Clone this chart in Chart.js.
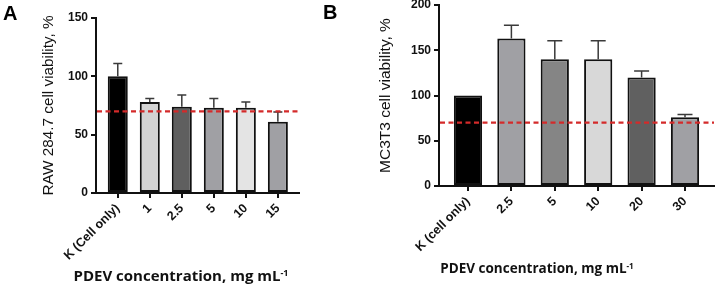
<!DOCTYPE html>
<html>
<head>
<meta charset="utf-8">
<script src="https://cdn.jsdelivr.net/npm/chart.js@4"></script>
<style>
  html, body { margin:0; padding:0; background:#fff; }
  body { width:717px; height:287px; position:relative; overflow:hidden; font-family:"Liberation Sans", Arial, sans-serif; }
  .wrap { position:absolute; top:0; height:287px; }
  .letter { position:absolute; font:bold 20px "Liberation Sans", Arial, sans-serif; color:#000; }
  .xt { position:absolute; font-family:"Open Sans", sans-serif; font-weight:700; color:#111; white-space:nowrap; transform:translate(-50%,-50%); }
  .xt sup { font-size:0.6em; vertical-align:0.55em; line-height:0; }
</style>
</head>
<body>
<div class="wrap" style="left:0;width:320px;"><canvas id="cA" width="320" height="287"></canvas></div>
<div class="wrap" style="left:320px;width:397px;"><canvas id="cB" width="397" height="287"></canvas></div>
<div class="letter" style="left:3px;top:2px;">A</div>
<div class="letter" style="left:323px;top:1px;">B</div>
<div class="xt" style="left:181px;top:275px;font-size:15px;">PDEV concentration, mg mL<sup>-1</sup></div>
<div class="xt" style="left:537px;top:268px;font-size:13.5px;">PDEV concentration, mg mL<sup>-1</sup></div>
<script>
// Panel A data
const labelsA = ["K (Cell only)", "1", "2.5", "5", "10", "15"];
const valuesA = [100, 78, 74, 73, 73, 61];
const errorsA = [11, 3, 10, 8, 5, 8.5];
const colorsA = ["#000000", "#d3d3d3", "#5f5f5f", "#a0a0a4", "#e4e4e4", "#a0a0a4"];
const yTicksA = [0, 50, 100, 150];
// Panel B data
const labelsB = ["K (cell only)", "2.5", "5", "10", "20", "30"];
const valuesB = [100, 163, 140, 140, 120, 76];
const errorsB = [0, 14.5, 20.5, 20.5, 7, 3];
const colorsB = ["#000000", "#a0a0a4", "#858585", "#d8d8d8", "#606060", "#a0a0a4"];
const yTicksB = [0, 50, 100, 150, 200];
const threshold = 70;

function makeChart(id, cfg) {
  const errPlugin = {
    id: 'errbars',
    afterDatasetsDraw(chart) {
      const ctx = chart.ctx, xs = chart.scales.x, ys = chart.scales.y;
      ctx.save();
      ctx.strokeStyle = '#3a3a3a';
      ctx.lineWidth = 1.5;
      cfg.values.forEach((v, i) => {
        const e = cfg.errors[i];
        if (!e) return;
        const x = xs.getPixelForValue(i);
        const y0 = ys.getPixelForValue(v);
        const y1 = ys.getPixelForValue(v + e);
        ctx.beginPath();
        ctx.moveTo(x, y0); ctx.lineTo(x, y1);
        ctx.moveTo(x - cfg.cap / 2, y1); ctx.lineTo(x + cfg.cap / 2, y1);
        ctx.stroke();
      });
      // threshold line
      const ty = ys.getPixelForValue(threshold);
      ctx.strokeStyle = '#d42a2a';
      ctx.lineWidth = 2.2;
      ctx.setLineDash([5, 3.5]);
      ctx.beginPath();
      ctx.moveTo(chart.chartArea.left + 1, ty);
      ctx.lineTo(chart.chartArea.right, ty);
      ctx.stroke();
      ctx.restore();
    }
  };
  return new Chart(document.getElementById(id), {
    type: 'bar',
    data: {
      datasets: [{
        data: cfg.values.map((v, i) => ({ x: i, y: v })),
        backgroundColor: cfg.colors,
        borderColor: '#111111',
        borderWidth: 2,
        borderSkipped: false,
        barPercentage: cfg.barPct,
        categoryPercentage: 1
      }]
    },
    options: {
      responsive: false,
      animation: false,
      events: [],
      layout: { padding: cfg.padding },
      plugins: { legend: { display: false }, tooltip: { enabled: false } },
      scales: {
        x: {
          type: 'linear',
          offset: false,
          min: cfg.xmin, max: cfg.xmax,
          afterBuildTicks(s) { s.ticks = cfg.labels.map((_, i) => ({ value: i })); },
          afterFit(s) { s.height = cfg.xh; s.paddingLeft = 0; s.paddingRight = 0; },
          grid: { display: true, offset: false, drawOnChartArea: false, drawTicks: true, tickLength: 5, color: '#111', lineWidth: 2 },
          border: { display: true, color: '#111', width: 2 },
          ticks: {
            autoSkip: false, minRotation: 45, maxRotation: 45, padding: 3,
            color: '#111',
            font: { family: '"Liberation Sans", Arial, sans-serif', size: 12.5, weight: 'bold' },
            callback: (v) => cfg.labels[v]
          }
        },
        y: {
          min: 0, max: cfg.ymax,
          afterBuildTicks(s) { s.ticks = cfg.yticks.map(v => ({ value: v })); },
          afterFit(s) { s.width = cfg.yw; s.paddingTop = 0; s.paddingBottom = 0; },
          grid: { display: true, drawOnChartArea: false, drawTicks: true, tickLength: 5, color: '#111', lineWidth: 2 },
          border: { display: true, color: '#111', width: 2 },
          ticks: {
            padding: 3, color: '#111',
            font: { family: '"Liberation Sans", Arial, sans-serif', size: 12, weight: 'bold' }
          },
          title: {
            display: true, text: cfg.ytitle, color: '#111',
            font: { family: '"Liberation Sans", Arial, sans-serif', size: cfg.ytsize },
            padding: { top: cfg.ytpad, bottom: 0 }
          }
        }
      }
    },
    plugins: [errPlugin]
  });
}

makeChart('cA', {
  labels: labelsA, values: valuesA, errors: errorsA, colors: colorsA, yticks: yTicksA,
  ymax: 150, xmin: -0.68, xmax: 5.66, barPct: 0.625, cap: 9,
  padding: { left: 0, right: 21, top: 18, bottom: 0 },
  yw: 96, xh: 94, ytitle: 'RAW 284.7 cell viability, %', ytsize: 15.3, ytpad: 40
});
makeChart('cB', {
  labels: labelsB, values: valuesB, errors: errorsB, colors: colorsB, yticks: yTicksB,
  ymax: 200, xmin: -0.668, xmax: 5.668, barPct: 0.65, cap: 15,
  padding: { left: 0, right: 3, top: 5, bottom: 0 },
  yw: 119, xh: 101, ytitle: 'MC3T3 cell viability, %', ytsize: 15.5, ytpad: 56
});
</script>
</body>
</html>
